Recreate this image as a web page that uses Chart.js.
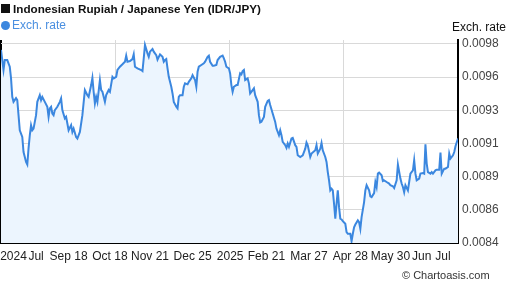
<!DOCTYPE html>
<html>
<head>
<meta charset="utf-8">
<script src="https://cdn.jsdelivr.net/npm/chart.js@4/dist/chart.umd.min.js"></script>
<style>
  html, body { margin: 0; padding: 0; background: #fff; }
  #wrap { position: relative; width: 507px; height: 288px; font-family: "Liberation Sans", Arial, sans-serif; }
  canvas { position: absolute; left: 0; top: 0; }
  .txt { position: absolute; white-space: nowrap; }
  #title { left: 1px; top: 2px; font-size: 11.7px; font-weight: bold; color: #111; }
  #title span { display: inline-block; width: 9px; height: 9px; background: #111; margin-right: 3px; vertical-align: 0px; }
  #legend { left: 1px; top: 18px; font-size: 12px; color: #4a8fe0; }
  #legend span { display: inline-block; width: 9px; height: 9px; border-radius: 50%; background: #3b87df; margin-right: 2px; vertical-align: -1px; }
  #ytitle { left: 452px; top: 20px; font-size: 12px; color: #111; }
  #copy { left: 402px; top: 269px; font-size: 11px; color: #333; }
</style>
</head>
<body>
<div id="wrap">
  <canvas id="chart" width="507" height="288"></canvas>
  <div class="txt" id="title"><span></span>Indonesian Rupiah / Japanese Yen (IDR/JPY)</div>
  <div class="txt" id="legend"><span></span>Exch. rate</div>
  <div class="txt" id="ytitle">Exch. rate</div>
  <div class="txt" id="copy">© Chartoasis.com</div>
</div>
<script>
// days since start of the period
const days = [0,2,3,5,7,8,9,10,12,13,
  14,15,17,18,20,21,22,23,24,25,
  26,28,29,31,32,33,35,37,38,39,
  40,41,42,43,45,47,48,49,51,52,
  53,54,56,57,58,60,61,63,65,67,
  69,70,72,73,74,75,76,77,79,80,
  81,83,84,86,87,89,90,92,93,95,
  97,99,100,101,103,105,106,107,109,112,
  113,114,115,117,118,119,121,122,124,125,
  127,129,130,131,132,133,134,136,137,138,
  140,141,142,143,145,146,147,149,150,152,
  153,155,156,157,158,160,162,163,165,166,
  167,169,170,172,173,175,177,178,179,180,
  182,183,184,185,186,188,189,191,192,193,
  194,195,197,198,199,201,202,203,205,206,
  207,208,210,211,213,214,215,217,219,220,
  222,223,224,225,227,228,229,230,232,233,
  235,236,237,239,241,243,244,245,247,248,
  251,252,253,255,256,257,259,260,261,262,
  263,264,265,266,267,268,269,270,271,272,
  273,275,276,277,279,280,281,282,283,285,
  286,287,288,290,291,292,294,295,296,298,
  299,300,301,302,304,305,306,308,310,311,
  313,314,316,317,319,320,321,322,323,325,
  326,327,329,330,331,332,334,335,337,338,
  339,340,341,343,344,345,347,348,350,351,
  352,354,355,357,358,359,361,362,363,365];

// IDR/JPY exchange rate
const rates = [0.009758,0.009617,0.009687,0.009687,0.009640,0.009560,0.009428,0.009393,0.009419,0.009405,
  0.009299,0.009193,0.009146,0.009040,0.008970,0.008952,0.009066,0.009158,0.009229,0.009193,
  0.009205,0.009299,0.009393,0.009440,0.009405,0.009428,0.009393,0.009358,0.009287,0.009347,
  0.009358,0.009311,0.009299,0.009335,0.009358,0.009393,0.009417,0.009335,0.009276,0.009287,
  0.009241,0.009193,0.009229,0.009181,0.009205,0.009146,0.009135,0.009181,0.009299,0.009476,
  0.009440,0.009428,0.009511,0.009562,0.009464,0.009382,0.009428,0.009393,0.009546,0.009476,
  0.009464,0.009393,0.009440,0.009476,0.009464,0.009569,0.009558,0.009569,0.009617,0.009640,
  0.009657,0.009675,0.009718,0.009675,0.009680,0.009694,0.009727,0.009640,0.009629,0.009617,
  0.009610,0.009699,0.009793,0.009734,0.009710,0.009746,0.009765,0.009746,0.009722,0.009690,
  0.009727,0.009710,0.009675,0.009687,0.009694,0.009629,0.009569,0.009499,0.009452,0.009393,
  0.009358,0.009347,0.009428,0.009440,0.009440,0.009499,0.009523,0.009516,0.009534,0.009558,
  0.009581,0.009546,0.009499,0.009605,0.009640,0.009652,0.009664,0.009675,0.009710,0.009718,
  0.009675,0.009647,0.009647,0.009652,0.009687,0.009710,0.009718,0.009699,0.009675,0.009640,
  0.009629,0.009593,0.009511,0.009464,0.009499,0.009511,0.009511,0.009593,0.009586,0.009610,
  0.009617,0.009546,0.009558,0.009523,0.009452,0.009476,0.009488,0.009440,0.009393,0.009299,
  0.009248,0.009253,0.009287,0.009358,0.009400,0.009405,0.009370,0.009311,0.009252,0.009205,
  0.009158,0.009193,0.009158,0.009111,0.009088,0.009069,0.009100,0.009076,0.009135,0.009139,
  0.009088,0.009076,0.009017,0.009005,0.009017,0.009064,0.009107,0.009088,0.009005,0.009029,
  0.009052,0.009088,0.009029,0.009064,0.009104,0.009052,0.009005,0.008970,0.008899,0.008841,
  0.008770,0.008782,0.008770,0.008676,0.008571,0.008676,0.008770,0.008652,0.008571,0.008566,
  0.008554,0.008535,0.008476,0.008465,0.008465,0.008413,0.008465,0.008511,0.008530,0.008559,
  0.008547,0.008500,0.008582,0.008688,0.008770,0.008806,0.008770,0.008728,0.008723,0.008751,
  0.008829,0.008794,0.008888,0.008895,0.008876,0.008836,0.008841,0.008829,0.008818,0.008806,
  0.008799,0.008787,0.008841,0.008952,0.008853,0.008818,0.008794,0.008758,0.008806,0.008770,
  0.008829,0.008888,0.008911,0.008982,0.008888,0.008841,0.008853,0.008888,0.008892,0.008888,
  0.009095,0.008959,0.008899,0.008888,0.008899,0.008888,0.008911,0.008916,0.008916,0.009036,
  0.008888,0.008923,0.008923,0.008935,0.009029,0.008994,0.009017,0.009040,0.009081,0.009135];

// x axis labels and where they sit (in days)
const xLabels = ['2024', 'Jul', 'Sep 18', 'Oct 18', 'Nov 21', 'Dec 25', '2025', 'Feb 21', 'Mar 27', 'Apr 28', 'May 30', 'Jun', 'Jul'];
const xLabelDays = [10, 28, 54, 87, 119, 153, 183, 212, 246, 279, 311, 336, 353];
const xGridDays = [0, 91.25, 182.5, 273.75, 365];

// y ticks
const yMin = 0.0084, yMaxTick = 0.0098, yTop = 0.009828;
const yTicks = [0, 1, 2, 3, 4, 5, 6].map(k => yMin + k * (yMaxTick - yMin) / 6);

const ctx = document.getElementById('chart');
new Chart(ctx, {
  type: 'line',
  data: {
    datasets: [{
      label: 'Exch. rate',
      data: days.map((d, i) => ({ x: d, y: rates[i] })),
      borderColor: '#3b87df',
      borderWidth: 2,
      backgroundColor: '#ecf5fe',
      fill: 'start',
      pointRadius: 0,
      tension: 0
    }]
  },
  options: {
    responsive: false,
    animation: false,
    layout: { padding: { top: 40, left: 1, right: 0, bottom: 0 } },
    plugins: { legend: { display: false }, tooltip: { enabled: false } },
    scales: {
      x: {
        type: 'linear', min: 0, max: 365,
        afterBuildTicks: s => { s.ticks = xLabelDays.map(v => ({ value: v })); },
        afterFit: s => { s.height = 45; s.paddingLeft = 0; s.paddingRight = 0; },
        ticks: {
          autoSkip: false, maxRotation: 0, minRotation: 0, padding: 6,
          color: '#222', font: { family: 'Liberation Sans', size: 12 },
          callback: (v, i) => xLabels[i]
        },
        grid: { display: false, drawTicks: false },
        border: { display: true, color: '#000', width: 2 }
      },
      xg: {
        type: 'linear', position: 'bottom', min: 0, max: 365,
        afterBuildTicks: s => { s.ticks = xGridDays.map(v => ({ value: v })); },
        afterFit: s => { s.height = 0; s.paddingLeft = 0; s.paddingRight = 0; },
        ticks: { display: false },
        grid: {
          drawTicks: false,
          color: c => c.index === 0 ? '#000' : '#d9d9d9',
          lineWidth: c => c.index === 0 ? 2 : 1
        },
        border: { display: false }
      },
      y: {
        position: 'right', min: yMin, max: yTop,
        afterBuildTicks: s => { s.ticks = yTicks.map(v => ({ value: v })); },
        afterFit: s => { s.width = 49; },
        ticks: {
          padding: 4, color: '#444', font: { family: 'Liberation Sans', size: 12 },
          callback: v => v.toFixed(4)
        },
        grid: { color: '#d9d9d9', drawTicks: false },
        border: { display: true, color: '#000', width: 2 }
      }
    }
  }
});
</script>
</body>
</html>
